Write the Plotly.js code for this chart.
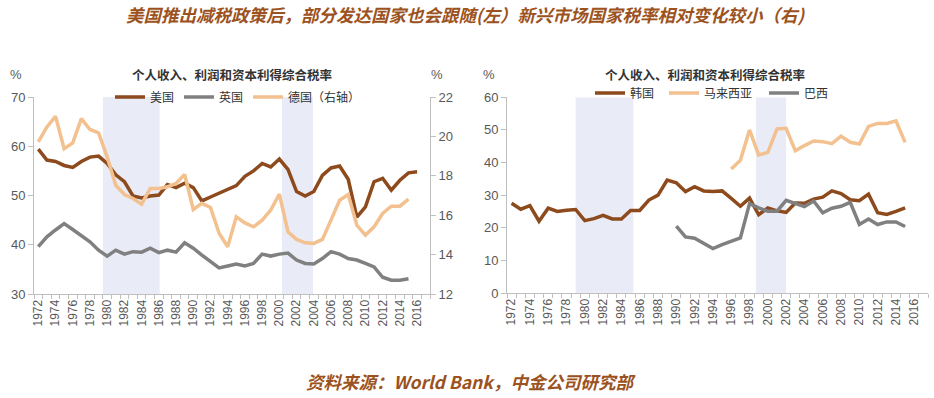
<!DOCTYPE html>
<html>
<head>
<meta charset="utf-8">
<script src="https://cdn.plot.ly/plotly-3.0.1.min.js"></script>
<style>html,body{margin:0;padding:0;background:#fff;}#chart{width:934px;height:398px;}</style>
</head>
<body>
<div id="chart"></div>
<script>
// Years (categories)
var years = [1972,1973,1974,1975,1976,1977,1978,1979,1980,1981,1982,1983,1984,1985,1986,1987,1988,1989,1990,1991,1992,1993,1994,1995,1996,1997,1998,1999,2000,2001,2002,2003,2004,2005,2006,2007,2008,2009,2010,2011,2012,2013,2014,2015,2016];

// Left chart: developed countries
var usRate = [59.4,57.2,56.9,56.1,55.7,56.9,57.8,58.0,56.5,54.2,
  52.8,49.9,49.5,49.9,50.1,52.2,51.6,52.5,51.6,48.9,
  49.7,50.5,51.2,52.0,53.9,55.0,56.5,55.8,57.4,55.3,
  50.8,49.9,50.8,54.1,55.6,56.0,53.3,45.6,47.7,52.8,
  53.5,51.1,53.1,54.6,54.8];
var ukRate = [39.6,41.6,43.0,44.3,43.1,41.8,40.6,38.9,37.7,38.9,
  38.1,38.6,38.5,39.3,38.4,38.9,38.5,40.4,39.3,37.9,
  36.6,35.3,35.7,36.1,35.7,36.2,38.1,37.7,38.1,38.3,
  36.9,36.2,36.1,37.2,38.6,38.1,37.2,36.9,36.2,35.5,
  33.4,32.8,32.8,33.1,null];
var deRate = [19.72,20.48,21.02,19.38,19.67,20.90,20.35,20.18,18.96,17.52,
  17.05,16.85,16.56,17.36,17.36,17.44,17.61,18.07,16.29,16.60,
  16.39,15.08,14.40,15.92,15.61,15.41,15.75,16.26,17.07,15.16,
  14.77,14.60,14.57,14.77,15.75,16.76,17.05,15.50,14.99,15.41,
  16.09,16.46,16.46,16.81,null];

// Right chart: emerging markets
var krRate = [27.5,25.7,26.8,22.0,26.0,25.0,25.4,25.6,22.2,22.8,
  23.8,22.7,22.7,25.3,25.3,28.5,30.0,34.6,33.8,31.1,
  32.6,31.3,31.1,31.3,29.0,26.6,29.1,24.0,26.1,25.2,
  24.7,27.6,27.5,28.8,29.4,31.3,30.5,28.6,28.3,30.3,
  24.6,24.1,25.0,26.1,null];
var myRate = [null,null,null,null,null,null,null,null,null,null,
  null,null,null,null,null,null,null,null,null,null,
  null,null,null,null,38.0,40.7,50.0,42.3,43.1,50.3,
  50.5,43.6,45.2,46.6,46.4,45.8,48.1,46.2,45.7,51.1,
  52.0,52.0,52.8,46.2,null];
var brRate = [null,null,null,null,null,null,null,null,null,null,
  null,null,null,null,null,null,null,null,20.5,17.2,
  16.8,15.1,13.6,14.8,15.9,16.9,27.4,26.1,25.1,25.1,
  28.4,27.5,26.5,28.2,24.6,26.0,26.6,27.8,21.0,22.7,
  21.0,21.8,21.8,20.4,null];

var names = {us:'美国', uk:'英国', de:'德国（右轴）', kr:'韩国', my:'马来西亚', br:'巴西'};

var cDark = '#8C4A1D', cGrey = '#808080', cLight = '#F3C18F';
var lw = 3.5;

function tr(y, name, color, xa, ya, legend) {
  return {x: years, y: y, name: name, type: 'scatter', mode: 'lines',
    line: {color: color, width: lw}, xaxis: xa, yaxis: ya, legend: legend,
    connectgaps: false, hoverinfo: 'skip'};
}

var data = [
  tr(usRate, names.us, cDark, 'x', 'y', 'legend'),
  tr(ukRate, names.uk, cGrey, 'x', 'y', 'legend'),
  tr(deRate, names.de, cLight, 'x', 'y2', 'legend'),
  tr(krRate, names.kr, cDark, 'x2', 'y3', 'legend2'),
  tr(myRate, names.my, cLight, 'x2', 'y3', 'legend3'),
  tr(brRate, names.br, cGrey, 'x2', 'y3', 'legend4')
];

var axisGrey = '#BFBFBF';
var tickFont = {family: 'Liberation Sans, Arial, sans-serif', size: 13, color: '#595959'};
var xTickFont = {family: 'Liberation Sans, Arial, sans-serif', size: 12, color: '#595959'};
var W = 934, H = 398;
function px(x) { return x / W; }
function py(y) { return (H - y) / H; }

function xAxis(domain, anchor) {
  return {domain: domain, anchor: anchor, range: [1971.5, 2017.5], tickmode: 'linear', tick0: 1972, dtick: 2,
    tickangle: -90, tickfont: xTickFont, ticks: '', showline: true, linecolor: axisGrey, linewidth: 1,
    showgrid: false, zeroline: false, tickformat: 'd', automargin: false, fixedrange: true,
    minor: {tickmode: 'linear', tick0: 1971.5, dtick: 1, ticks: 'outside', ticklen: 4, tickcolor: axisGrey, tickwidth: 1, showgrid: false}};
}

var shadeColor = '#E9ECF7';
var shapes = [
  {type: 'rect', xref: 'x', yref: 'y', x0: 1979.5, x1: 1986.1, y0: 30, y1: 70, fillcolor: shadeColor, line: {width: 0}, layer: 'below'},
  {type: 'rect', xref: 'x', yref: 'y', x0: 2000.3, x1: 2003.9, y0: 30, y1: 70, fillcolor: shadeColor, line: {width: 0}, layer: 'below'},
  {type: 'rect', xref: 'x2', yref: 'y3', x0: 1979.0, x1: 1985.3, y0: 0, y1: 60, fillcolor: shadeColor, line: {width: 0}, layer: 'below'},
  {type: 'rect', xref: 'x2', yref: 'y3', x0: 1998.7, x1: 2002.0, y0: 0, y1: 60, fillcolor: shadeColor, line: {width: 0}, layer: 'below'}
];

var cjk = 'Noto Sans CJK SC, sans-serif';
var brown = '#9C5220';
var subtitle = '个人收入、利润和资本利得综合税率';

var annotations = [
  {text: '<b><i>美国推出减税政策后，部分发达国家也会跟随(左）新兴市场国家税率相对变化较小（右)</i></b>', xref: 'paper', yref: 'paper', x: px(466), y: py(14), xanchor: 'center', yanchor: 'middle', showarrow: false, font: {family: cjk, size: 17.5, color: brown}},
  {text: '<b><i>资料来源：World Bank，中金公司研究部</i></b>', xref: 'paper', yref: 'paper', x: px(471), y: py(381), xanchor: 'center', yanchor: 'middle', showarrow: false, font: {family: cjk, size: 17.5, color: brown}},
  {text: '<b>' + subtitle + '</b>', xref: 'paper', yref: 'paper', x: px(232), y: py(74), xanchor: 'center', yanchor: 'middle', showarrow: false, font: {family: cjk, size: 12.5, color: '#333333'}},
  {text: '<b>' + subtitle + '</b>', xref: 'paper', yref: 'paper', x: px(705), y: py(74), xanchor: 'center', yanchor: 'middle', showarrow: false, font: {family: cjk, size: 12.5, color: '#333333'}},
  {text: '%', xref: 'paper', yref: 'paper', x: px(16), y: py(74), xanchor: 'center', yanchor: 'middle', showarrow: false, font: tickFont},
  {text: '%', xref: 'paper', yref: 'paper', x: px(437), y: py(74), xanchor: 'center', yanchor: 'middle', showarrow: false, font: tickFont},
  {text: '%', xref: 'paper', yref: 'paper', x: px(489), y: py(74), xanchor: 'center', yanchor: 'middle', showarrow: false, font: tickFont}
];

function legendAt(x, y) {
  return {orientation: 'h', x: px(x), y: py(y), xanchor: 'left', yanchor: 'middle', bgcolor: 'rgba(0,0,0,0)',
    font: {family: cjk, size: 12, color: '#333333'}, itemwidth: 30, tracegroupgap: 0};
}

var layout = {
  width: W, height: H,
  margin: {l: 0, r: 0, t: 0, b: 0},
  paper_bgcolor: '#ffffff', plot_bgcolor: 'rgba(0,0,0,0)',
  showlegend: true,
  xaxis: xAxis([px(34), px(430)], 'y'),
  yaxis: {domain: [py(294), py(97)], anchor: 'x', range: [30, 70], dtick: 10, tick0: 30, ticks: 'outside', ticklen: 5, tickcolor: axisGrey,
    showline: true, linecolor: axisGrey, showgrid: false, zeroline: false, tickfont: tickFont, automargin: false, fixedrange: true},
  yaxis2: {overlaying: 'y', side: 'right', anchor: 'x', range: [12, 22], dtick: 2, tick0: 12, ticks: 'outside', ticklen: 5, tickcolor: axisGrey,
    showline: true, linecolor: axisGrey, showgrid: false, zeroline: false, tickfont: tickFont, automargin: false, fixedrange: true},
  xaxis2: xAxis([px(507), px(928)], 'y3'),
  yaxis3: {domain: [py(293), py(97.3)], anchor: 'x2', range: [0, 60], dtick: 10, tick0: 0, ticks: 'outside', ticklen: 5, tickcolor: axisGrey,
    showline: true, linecolor: axisGrey, showgrid: false, zeroline: false, tickfont: tickFont, automargin: false, fixedrange: true},
  legend: legendAt(110, 97),
  legend2: legendAt(590, 93),
  legend3: legendAt(664, 93),
  legend4: legendAt(764, 93),
  shapes: shapes,
  annotations: annotations
};

Plotly.newPlot('chart', data, layout, {displayModeBar: false, staticPlot: true});
</script>
</body>
</html>
